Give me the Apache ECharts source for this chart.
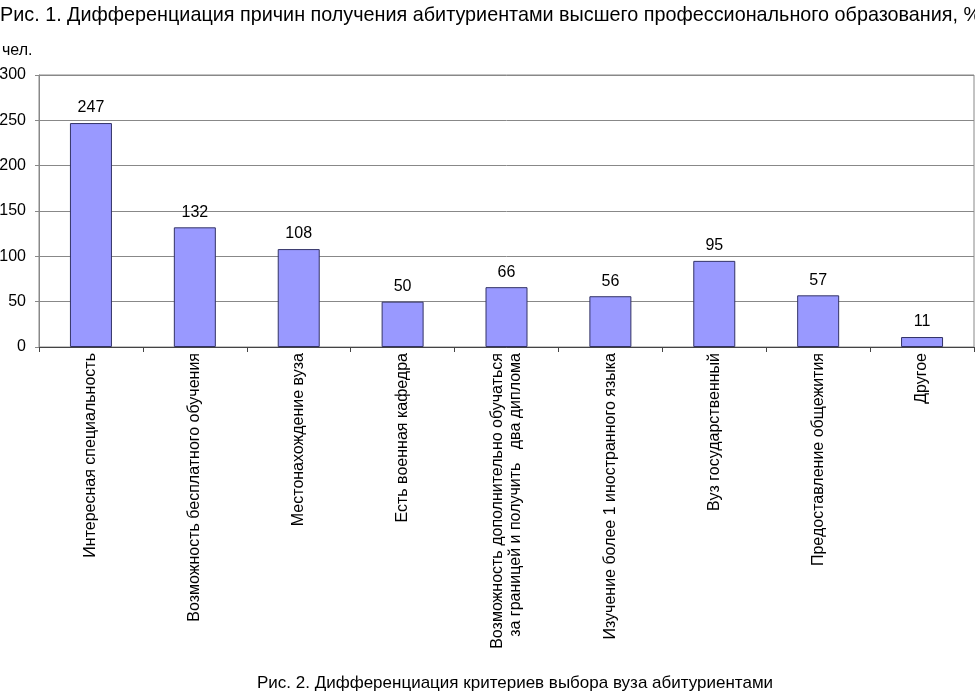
<!DOCTYPE html>
<html><head><meta charset="utf-8">
<script src="https://cdn.jsdelivr.net/npm/echarts@6/dist/echarts.min.js"></script>
<style>html,body{margin:0;padding:0;background:#fff}#c{width:975px;height:692px}</style>
</head><body><div id="c"></div>
<script>
var categories = [
  'Интересная специальность',
  'Возможность бесплатного обучения',
  'Местонахождение вуза',
  'Есть военная кафедра',
  'Возможность дополнительно обучаться\nза границей и получить   два диплома',
  'Изучение более 1 иностранного языка',
  'Вуз государственный',
  'Предоставление общежития',
  'Другое'
];
var values = [247, 132, 108, 50, 66, 56, 95, 57, 11];
var titleText = 'Рис. 1. Дифференциация причин получения абитуриентами высшего профессионального образования, %';
var unitText = 'чел.';
var captionText = 'Рис. 2. Дифференциация критериев выбора вуза абитуриентами';

var chart = echarts.init(document.getElementById('c'));
var font = 'Liberation Sans, Arial, sans-serif';
chart.setOption({
  animation: false,
  title: [
    {text: titleText, left: 0, top: 6, padding: 0, textStyle: {fontFamily: font, fontSize: 19.8, fontWeight: 'normal', color: '#000'}},
    {text: unitText, left: 2, top: 43, padding: 0, textStyle: {fontFamily: font, fontSize: 16, fontWeight: 'normal', color: '#000'}},
    {text: captionText, left: 257, top: 675, padding: 0, textStyle: {fontFamily: font, fontSize: 17, fontWeight: 'normal', color: '#000'}}
  ],
  grid: {left: 39, right: 1, top: 75, bottom: 345, containLabel: false, outerBoundsMode: 'none',
         show: true, borderColor: '#888', borderWidth: 1},
  xAxis: {
    type: 'category', data: categories,
    axisLine: {lineStyle: {color: '#444', width: 1}},
    axisTick: {show: true, length: 5, lineStyle: {color: '#444'}},
    axisLabel: {interval: 0, rotate: 90, margin: 6, fontFamily: font, fontSize: 16, color: '#000', lineHeight: 18}
  },
  yAxis: {
    type: 'value', min: 0, max: 300, interval: 50,
    axisLine: {show: true, lineStyle: {color: '#888'}},
    axisTick: {show: true, length: 4, lineStyle: {color: '#888'}},
    splitLine: {lineStyle: {color: '#888', width: 1}},
    axisLabel: {margin: 13, fontFamily: font, fontSize: 16, color: '#000'}
  },
  series: [{
    type: 'bar', data: values, barWidth: 42,
    itemStyle: {color: '#9999FF', borderColor: '#333366', borderWidth: 1},
    label: {show: true, position: 'top', distance: 7, fontFamily: font, fontSize: 16, color: '#000'}
  }]
});
</script></body></html>
